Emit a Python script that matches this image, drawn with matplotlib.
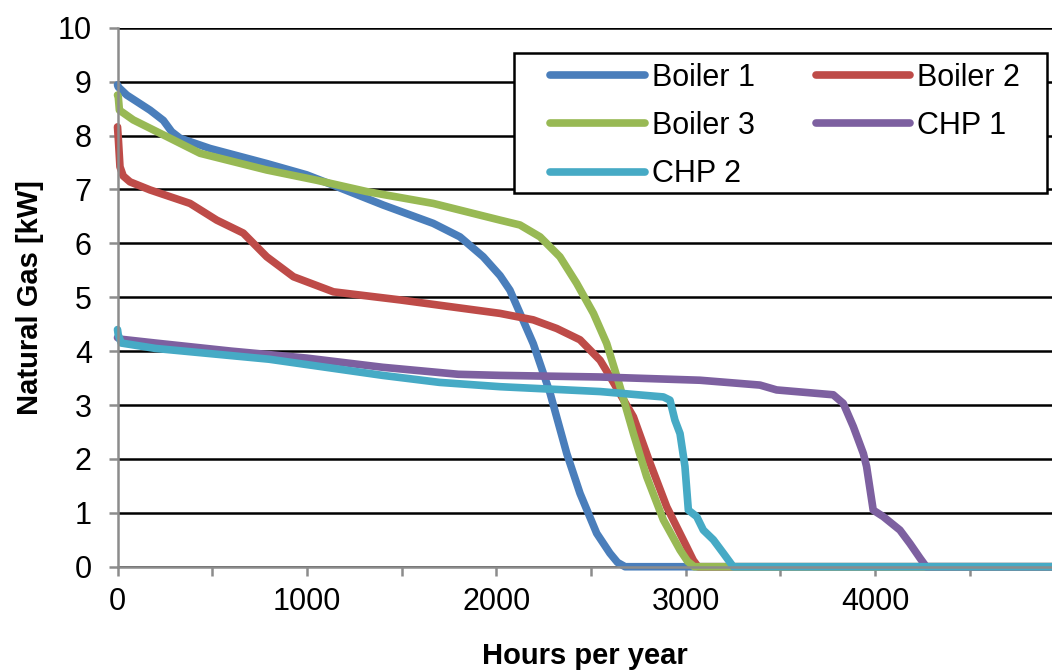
import matplotlib
matplotlib.use("Agg")
import matplotlib.pyplot as plt
from matplotlib.patches import Rectangle
from matplotlib.ticker import MultipleLocator

plt.rcParams['font.family'] = ['Liberation Sans', 'DejaVu Sans']

# load duration curves (hours, kW)
boiler1_x = [0, 4, 49, 172, 242, 286, 330, 488, 788, 999, 1138, 1403, 1667, 1808, 1931, 2020,
             2072, 2195, 2284, 2372, 2442, 2530, 2600, 2640, 2680, 5000]
boiler1_y = [8.94, 8.9, 8.75, 8.47, 8.28, 8.07, 7.95, 7.76, 7.48, 7.27, 7.08, 6.71, 6.37, 6.12, 5.75, 5.4,
             5.13, 4.14, 3.22, 2.1, 1.36, 0.62, 0.25, 0.08, 0, 0]

boiler2_x = [0, 5, 13, 30, 66, 172, 383, 524, 664, 788, 929, 1140, 1492, 2020, 2195, 2319, 2442,
             2548, 2600, 2724, 2812, 2900, 3005, 3040, 3065, 5000]
boiler2_y = [8.16, 7.9, 7.42, 7.25, 7.14, 6.99, 6.74, 6.43, 6.19, 5.75, 5.38, 5.1, 4.95, 4.7, 4.58, 4.42, 4.21,
             3.83, 3.53, 2.78, 1.92, 1.11, 0.37, 0.12, 0, 0]

boiler3_x = [0, 4, 10, 83, 260, 436, 788, 1052, 1316, 1667, 2020, 2125, 2231, 2336, 2424, 2513, 2583,
             2653, 2724, 2794, 2882, 2970, 3010, 3045, 5000]
boiler3_y = [8.75, 8.72, 8.47, 8.29, 7.98, 7.67, 7.36, 7.17, 6.96, 6.74, 6.43, 6.34, 6.12, 5.75, 5.26, 4.7, 4.14,
             3.34, 2.47, 1.67, 0.87, 0.31, 0.1, 0, 0]

chp1_x = [0, 20, 200, 600, 1000, 1400, 1800, 2020, 2548, 3075, 3392, 3480, 3779, 3832, 3885, 3938, 3955,
          3990, 4043, 4131, 4184, 4237, 4270, 5000]
chp1_y = [4.25, 4.22, 4.15, 4.0, 3.87, 3.7, 3.57, 3.55, 3.52, 3.46, 3.37, 3.28, 3.19, 3.03, 2.6, 2.1, 1.86,
          1.05, 0.93, 0.68, 0.43, 0.16, 0, 0]

chp2_x = [0, 4, 20, 200, 500, 800, 1000, 1400, 1700, 2020, 2548, 2882, 2917, 2943, 2970, 2996, 3014,
          3058, 3093, 3146, 3199, 3251, 5000]
chp2_y = [4.4, 4.3, 4.15, 4.05, 3.95, 3.85, 3.75, 3.55, 3.42, 3.34, 3.25, 3.15, 3.09, 2.72, 2.47, 1.86, 1.05,
          0.93, 0.68, 0.5, 0.25, 0, 0]

series = [
    ("Boiler 1", boiler1_x, boiler1_y, "#4A7EBB"),
    ("Boiler 2", boiler2_x, boiler2_y, "#BE4B48"),
    ("Boiler 3", boiler3_x, boiler3_y, "#98B954"),
    ("CHP 1", chp1_x, chp1_y, "#7D60A0"),
    ("CHP 2", chp2_x, chp2_y, "#46AAC5"),
]

fig = plt.figure(figsize=(10.52, 6.71), dpi=100)
ax = fig.add_axes([0.1117, 0.1554, 1 - 0.1117, 0.9587 - 0.1554])

handles = []
for label, xs, ys, color in series:
    h, = ax.plot(xs, ys, color=color, lw=5.5, label=label, solid_capstyle='round',
                 solid_joinstyle='round', clip_on=False)
    handles.append(h)

ax.set_xlim(0, 4934)
ax.set_ylim(0, 10)
ax.xaxis.set_major_locator(MultipleLocator(1000))
ax.xaxis.set_minor_locator(MultipleLocator(500))
ax.yaxis.set_major_locator(MultipleLocator(1))

ax.grid(axis='y', color='black', lw=1.8)
ax.set_axisbelow(True)
for s in ['top', 'right']:
    ax.spines[s].set_visible(False)
for s in ['left', 'bottom']:
    ax.spines[s].set_color('#8c8c8c')
    ax.spines[s].set_linewidth(1.8)

ax.tick_params(which='both', direction='out', length=6.5, width=1.8, color='#8c8c8c',
               labelsize=22)
ax.tick_params(axis='y', pad=12)
ax.tick_params(axis='x', which='major', pad=8)

ax.set_ylabel("Natural Gas [kW]", fontsize=21, fontweight='bold', labelpad=10)
ax.set_xlabel("Hours per year", fontsize=21, fontweight='bold', labelpad=18)

# legend frame drawn by hand, entries laid out row by row like the original
ax.add_patch(Rectangle((0.424, 0.693), 0.571, 0.26, transform=ax.transAxes,
                       facecolor='white', edgecolor='black', lw=1.8, zorder=4, clip_on=False))
order = [0, 2, 4, 1, 3]
leg = ax.legend([handles[i] for i in order], [series[i][0] for i in order], ncol=2,
                loc='upper left', bbox_to_anchor=(0.463, 0.935), borderaxespad=0, borderpad=0,
                frameon=False, fontsize=22, handlelength=3.1, handletextpad=0.22,
                labelspacing=0.6, columnspacing=2.0)
leg.set_zorder(5)

fig.savefig("out.png", dpi=100)
